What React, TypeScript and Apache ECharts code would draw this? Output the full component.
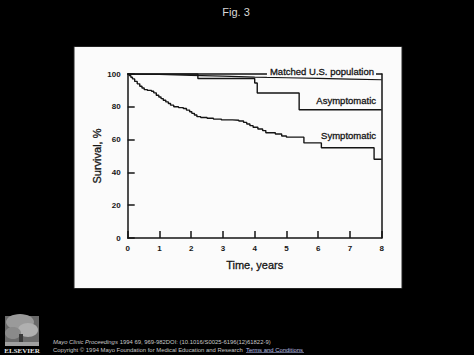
import React, { useEffect, useRef } from "react";
import * as echarts from "echarts";

const xTicks = [0, 1, 2, 3, 4, 5, 6, 7, 8];
const yTicks = [0, 20, 40, 60, 80, 100];

const matched: [number, number][] = [
  [0, 100], [1, 99.7], [2, 99.2], [3, 98.7], [4, 98.1], [5, 97.7], [6, 97.3], [7, 96.9], [8, 96.5],
];

const asymptomatic: [number, number][] = [
  [0, 100], [2.21, 97.3], [4.0, 94.5], [4.08, 88.4], [5.4, 78.2], [8, 78.2],
];

const symptomatic: [number, number][] = [
  [0, 100], [0.05, 99], [0.1, 98], [0.15, 97], [0.22, 95.5], [0.3, 94], [0.38, 92.5],
  [0.45, 91.5], [0.52, 90.5], [0.62, 90], [0.75, 89.5], [0.82, 88.5], [0.9, 87],
  [0.98, 86], [1.05, 85], [1.12, 84], [1.2, 83], [1.28, 82], [1.35, 81], [1.45, 80],
  [1.6, 79.5], [1.75, 79], [1.85, 78], [1.95, 77], [2.02, 76], [2.1, 75], [2.18, 74],
  [2.3, 73.5], [2.5, 73], [2.7, 72.5], [2.95, 72], [3.3, 71.8], [3.5, 71.3], [3.65, 70.5],
  [3.75, 69.5], [3.85, 68.5], [3.95, 67.5], [4.1, 66.5], [4.25, 65.5], [4.35, 64.2],
  [4.65, 63.4], [4.85, 62.2], [5.0, 61.5], [5.55, 58], [6.1, 55], [7.76, 48], [8, 48],
];

const labels = {
  title: "Fig. 3",
  yName: "Survival, %",
  xName: "Time, years",
  matched: "Matched U.S. population",
  asym: "Asymptomatic",
  sym: "Symptomatic",
  cite1a: "Mayo Clinic Proceedings",
  cite1b: " 1994 69, 969-982DOI: (10.1016/S0025-6196(12)61822-9)",
  cite2: "Copyright © 1994 Mayo Foundation for Medical Education and Research",
  terms: "Terms and Conditions",
  logo: "ELSEVIER",
};

const INK = "#151515";
const FONT = "Liberation Sans, Arial, Helvetica, sans-serif";

export default function App() {
  const ref = useRef<HTMLDivElement>(null);
  useEffect(() => {
    document.body.style.margin = "0";
    const chart = echarts.init(ref.current!, null, { renderer: "svg" });
    const lineStyle = { color: INK, width: 1.4 };
    const heavy = { textBorderColor: INK, textBorderWidth: 0.3 };
    chart.setOption({
      animation: false,
      backgroundColor: "#000",
      grid: { left: 127.7, top: 74, right: 92.3, bottom: 117 },
      xAxis: [
        {
          type: "value", min: 0, max: 8, interval: 1,
          axisLine: { show: true, onZero: false, lineStyle: { color: INK, width: 1.5 } },
          axisTick: { show: true, inside: true, length: 7, lineStyle: { color: INK, width: 1.5 } },
          axisLabel: { color: INK, fontSize: 8, fontWeight: "bold", fontFamily: FONT, margin: 6,
            formatter: (v: number) => (xTicks.includes(v) ? String(v) : "") },
          splitLine: { show: false },
          name: labels.xName, nameLocation: "middle", nameGap: 21, nameMoveOverlap: false,
          nameTextStyle: { color: INK, fontSize: 11, fontFamily: FONT, ...heavy },
        },
        {
          type: "value", min: 0, max: 8, position: "top",
          axisLine: { show: true, onZero: false, lineStyle: { color: INK, width: 1.5 } },
          axisTick: { show: false }, axisLabel: { show: false }, splitLine: { show: false },
        },
      ],
      yAxis: [
        {
          type: "value", min: 0, max: 100, interval: 20,
          axisLine: { show: true, onZero: false, lineStyle: { color: INK, width: 1.5 } },
          axisTick: { show: true, inside: true, length: 7, lineStyle: { color: INK, width: 1.5 } },
          axisLabel: { color: INK, fontSize: 8, fontWeight: "bold", fontFamily: FONT, margin: 7,
            formatter: (v: number) => (yTicks.includes(v) ? String(v) : "") },
          splitLine: { show: false },
          name: labels.yName, nameLocation: "middle", nameGap: 25, nameRotate: 90, nameMoveOverlap: false,
          nameTextStyle: { color: INK, fontSize: 11, fontFamily: FONT, ...heavy },
        },
        {
          type: "value", min: 0, max: 100, position: "right",
          axisLine: { show: true, onZero: false, lineStyle: { color: INK, width: 1.5 } },
          axisTick: { show: false }, axisLabel: { show: false }, splitLine: { show: false },
        },
      ],
      series: [
        { name: "matched", type: "line", data: matched, symbol: "none", lineStyle: { ...lineStyle, width: 1.2 } },
        { name: "asym", type: "line", step: "end", data: asymptomatic, symbol: "none", lineStyle },
        { name: "sym", type: "line", step: "end", data: symptomatic, symbol: "none", lineStyle },
      ],
      graphic: [
        { type: "rect", z: -10, shape: { x: 74, y: 46.5, width: 328, height: 242 },
          style: { fill: "#fbfbfb", stroke: "#222", lineWidth: 1 } },
        { type: "text", z: 100, x: 236, y: 12, style: { text: labels.title, fill: "#d8d8d8",
          font: `11px ${FONT}`, align: "center", verticalAlign: "middle" } },
        { type: "text", z: 100, x: 376, y: 71, style: { text: labels.matched, fill: INK,
          font: `9.5px ${FONT}`, align: "right", verticalAlign: "middle", stroke: INK, lineWidth: 0.3,
          backgroundColor: "#fbfbfb", padding: [1, 2, 1, 3] } },
        { type: "text", z: 100, x: 376, y: 100.5, style: { text: labels.asym, fill: INK,
          font: `9.5px ${FONT}`, align: "right", verticalAlign: "middle", stroke: INK, lineWidth: 0.3 } },
        { type: "text", z: 100, x: 376, y: 135, style: { text: labels.sym, fill: INK,
          font: `9.5px ${FONT}`, align: "right", verticalAlign: "middle", stroke: INK, lineWidth: 0.3 } },
        // Elsevier logo approximation
        { type: "group", z: 50, children: [
          { type: "rect", shape: { x: 5, y: 316, width: 34, height: 30 }, style: { fill: "#6a6a6a" } },
          { type: "ellipse", shape: { cx: 20, cy: 322, rx: 14, ry: 8 }, style: { fill: "#9a9a9a" } },
          { type: "ellipse", shape: { cx: 28, cy: 330, rx: 10, ry: 7 }, style: { fill: "#b0b0b0" } },
          { type: "ellipse", shape: { cx: 13, cy: 333, rx: 8, ry: 6 }, style: { fill: "#8a8a8a" } },
          { type: "rect", shape: { x: 19, y: 334, width: 4, height: 12 }, style: { fill: "#3a3a3a" } },
          { type: "rect", shape: { x: 5, y: 342, width: 34, height: 4 }, style: { fill: "#a0a0a0" } },
          { type: "text", x: 22, y: 351, style: { text: labels.logo, fill: "#e8e8e8",
            font: `bold 7px "Liberation Serif", "DejaVu Serif", serif`, align: "center", verticalAlign: "middle" } },
        ] },
        { type: "text", z: 100, x: 53, y: 342, style: { text: labels.cite1a, fill: "#c8c8c8",
          font: `italic 5.9px ${FONT}`, verticalAlign: "middle" } },
        { type: "text", z: 100, x: 118, y: 342, style: { text: labels.cite1b, fill: "#c8c8c8",
          font: `5.9px ${FONT}`, verticalAlign: "middle" } },
        { type: "text", z: 100, x: 53, y: 349.5, style: { text: labels.cite2, fill: "#c8c8c8",
          font: `5.9px ${FONT}`, verticalAlign: "middle" } },
        { type: "text", z: 100, x: 246, y: 349.5, style: { text: labels.terms, fill: "#b8bfe0",
          font: `5.9px ${FONT}`, verticalAlign: "middle" } },
        { type: "line", z: 100, shape: { x1: 246, y1: 352.5, x2: 304, y2: 352.5 },
          style: { stroke: "#9aa3d0", lineWidth: 0.6 } },
      ],
    });
    return () => chart.dispose();
  }, []);
  return <div ref={ref} style={{ position: "fixed", left: 0, top: 0, width: 474, height: 355 }} />;
}
